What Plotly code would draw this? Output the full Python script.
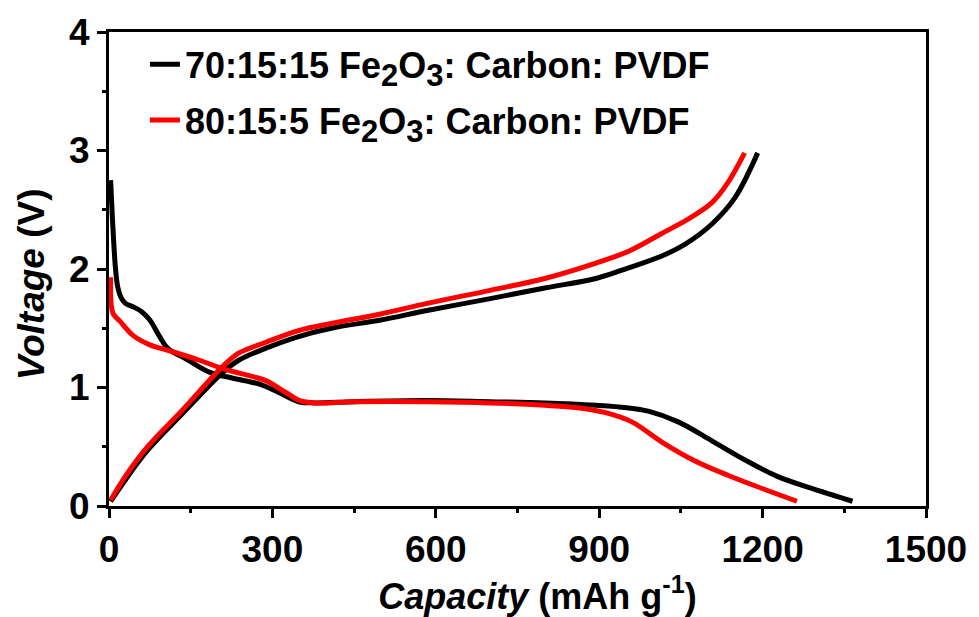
import plotly.graph_objects as go

# ---- data (capacity in mAh/g, voltage in V) ----
black_dis_x = [3, 6, 9, 12, 16, 22, 30, 45, 60, 75, 93, 108, 142, 184, 226, 275, 311, 348, 378, 450, 584, 700, 800, 894, 950, 990, 1045, 1107, 1167, 1227, 1289, 1365]
black_dis_y = [2.75, 2.45, 2.2, 2.0, 1.85, 1.76, 1.71, 1.68, 1.64, 1.57, 1.43, 1.33, 1.24, 1.13, 1.08, 1.03, 0.96, 0.88, 0.87, 0.88, 0.89, 0.88, 0.87, 0.85, 0.83, 0.80, 0.71, 0.55, 0.39, 0.25, 0.15, 0.04]
black_chg_x = [3, 30, 69, 135, 207, 238, 287, 348, 408, 499, 584, 700, 800, 894, 954, 1015, 1058, 1107, 1149, 1191]
black_chg_y = [0.04, 0.22, 0.46, 0.78, 1.12, 1.23, 1.33, 1.43, 1.50, 1.57, 1.65, 1.75, 1.84, 1.92, 2.01, 2.11, 2.21, 2.38, 2.60, 2.98]

red_dis_x = [3, 4, 8, 20, 44, 75, 111, 166, 215, 257, 287, 324, 350, 380, 450, 584, 700, 800, 860, 910, 960, 1015, 1076, 1136, 1198, 1263]
red_dis_y = [1.93, 1.70, 1.62, 1.56, 1.44, 1.36, 1.31, 1.23, 1.15, 1.10, 1.06, 0.96, 0.89, 0.87, 0.88, 0.88, 0.87, 0.85, 0.83, 0.79, 0.71, 0.54, 0.38, 0.26, 0.15, 0.04]
red_chg_x = [3, 30, 69, 135, 207, 238, 287, 348, 408, 499, 584, 700, 800, 894, 954, 1015, 1063, 1107, 1135, 1167]
red_chg_y = [0.05, 0.25, 0.49, 0.81, 1.17, 1.29, 1.38, 1.48, 1.54, 1.62, 1.71, 1.82, 1.92, 2.05, 2.15, 2.30, 2.42, 2.56, 2.72, 2.98]

SUB = '<sub><span style="font-size:31px">{}</span></sub>'
series_names = ["70:15:15 Fe" + SUB.format(2) + "O" + SUB.format(3) + ": Carbon: PVDF",
                "80:15:5 Fe" + SUB.format(2) + "O" + SUB.format(3) + ": Carbon: PVDF"]
series_colors = ["#000000", "#ff0000"]

x_ticks = [0, 300, 600, 900, 1200, 1500]
y_ticks = [0, 1, 2, 3, 4]

FONT = "Arial, 'Liberation Sans', sans-serif"

fig = go.Figure()
data = [(black_dis_x, black_dis_y, black_chg_x, black_chg_y),
        (red_dis_x, red_dis_y, red_chg_x, red_chg_y)]
for i, (dx, dy, cx, cy) in enumerate(data):
    fig.add_trace(go.Scatter(
        x=dx + [None] + cx, y=dy + [None] + cy,
        mode="lines", name="<b>" + series_names[i] + "</b>",
        line=dict(color=series_colors[i], width=5, shape="spline", smoothing=1.0),
        legendgroup=str(i), connectgaps=False,
    ))

axis_common = dict(
    showgrid=False, zeroline=False, showline=True, linecolor="black", linewidth=3,
    mirror=True, ticks="outside", ticklen=9, tickwidth=3, tickcolor="black",
    tickfont=dict(family=FONT, size=37, color="black", weight="bold"),
)

fig.update_layout(
    width=979, height=617,
    margin=dict(l=109, r=46, t=30, b=111),
    paper_bgcolor="white", plot_bgcolor="white",
    font=dict(family=FONT, color="black"),
    xaxis=dict(range=[0, 1500], tickvals=x_ticks,
               minor=dict(dtick=150, ticks="outside", ticklen=4, tickwidth=3, tickcolor="black"),
               title=dict(text="&nbsp;&nbsp;&nbsp;&nbsp;<b><i>Capacity</i> (mAh g<sup>-1</sup>)</b>",
                          font=dict(family=FONT, size=36, color="black"), standoff=2),
               **axis_common),
    yaxis=dict(range=[0, 4], tickvals=y_ticks,
               minor=dict(dtick=0.5, ticks="outside", ticklen=4, tickwidth=3, tickcolor="black"),
               title=dict(text="<b><i>Voltage</i> (V)</b>&nbsp;&nbsp;&nbsp;",
                          font=dict(family=FONT, size=37, color="black"), standoff=14),
               **axis_common),
    legend=dict(x=0.044, y=0.995, xanchor="left", yanchor="top",
                bgcolor="rgba(0,0,0,0)", font=dict(family=FONT, size=36, color="black"),
                tracegroupgap=6),
    showlegend=True,
)

fig.write_html("out.html")
